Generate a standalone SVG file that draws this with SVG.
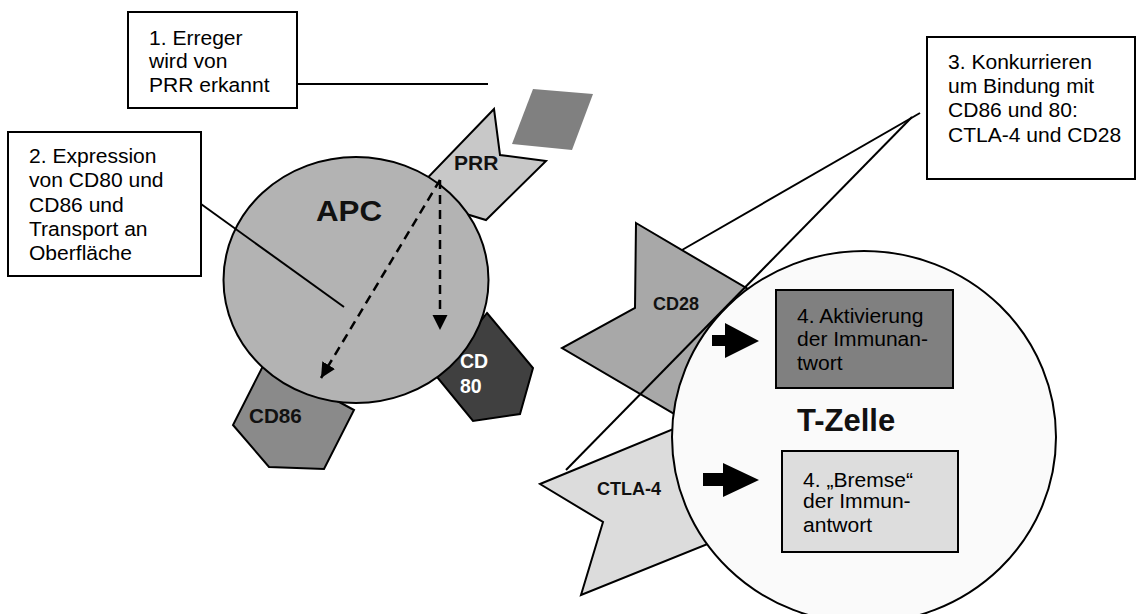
<svg xmlns="http://www.w3.org/2000/svg" width="1136" height="614" viewBox="0 0 1136 614">
<defs>
<style>
.box{stroke:#000;stroke-width:2}
.shape{stroke:#000;stroke-width:2;stroke-linejoin:miter}
.t{font-family:"Liberation Sans",Arial,sans-serif;font-size:19.5px;fill:#000}
.b{font-family:"Liberation Sans",Arial,sans-serif;font-weight:bold;fill:#111}
.ln{stroke:#000;stroke-width:2;fill:none}
.dash{stroke:#000;stroke-width:2.5;stroke-dasharray:9,6;fill:none}
</style>
<marker id="ah" markerUnits="userSpaceOnUse" markerWidth="16" markerHeight="16" refX="15" refY="7.5" orient="auto">
<path d="M0,0 L15,7.5 L0,15 z" fill="#000"/>
</marker>
</defs>
<rect width="1136" height="614" fill="#fff"/>

<g id="apc">
<polygon id="prr-shape" class="shape" fill="#c8c8c8" points="494,109 500,155 546,161 486,220 420,200 410,196"/>
<polygon id="cd86-shape" class="shape" fill="#8a8a8a" points="265,362 354,410 324,469 269,467 233,425"/>
<polygon id="cd80-shape" class="shape" fill="#404040" points="487,313 533,368 520,414 473,421 437,377"/>
<ellipse cx="356" cy="280" rx="132.5" ry="123" fill="#b3b3b3" stroke="#000" stroke-width="2"/>
<text class="b" font-size="29" transform="translate(316,221) scale(1.08,1)">APC</text>
</g>

<g id="prr"><text class="b" font-size="19.5" transform="translate(454,170) scale(1.08,1)">PRR</text></g>
<g id="cd86"><text class="b" font-size="19.5" transform="translate(249,423) scale(1.06,1)">CD86</text></g>
<g id="cd80"><text class="b" font-size="19.5" x="460" y="368" style="fill:#fff">CD</text><text class="b" font-size="19.5" x="460" y="393" style="fill:#fff">80</text></g>

<g id="erreger"><polygon fill="#808080" points="533,89 593,94 572,150 512,144"/></g>

<g id="cd28">
<polygon class="shape" fill="#a8a8a8" points="636,223 770,302 700,429 562,348 635,308"/>
<text class="b" font-size="18" x="653" y="310">CD28</text>
</g>
<g id="ctla4">
<polygon class="shape" fill="#dcdcdc" points="540,484 700,418 745,529 581,595 603,522"/>
<text class="b" font-size="18" x="597" y="495">CTLA-4</text>
</g>

<g id="tzelle">
<ellipse cx="864" cy="437" rx="192" ry="186" fill="#fafafa" stroke="#000" stroke-width="2"/>
<text class="b" font-size="31" x="797" y="431">T-Zelle</text>
</g>

<g id="aktivierung">
<rect class="box" x="776" y="290" width="177" height="98" fill="#808080"/>
<text class="t" transform="translate(797,323) scale(1.08,1)">4. Aktivierung</text>
<text class="t" transform="translate(797,346) scale(1.08,1)">der Immunan-</text>
<text class="t" transform="translate(797,370) scale(1.08,1)">twort</text>
</g>
<g id="bremse">
<rect class="box" x="782" y="451" width="176" height="101" fill="#dddddd"/>
<text class="t" transform="translate(803,487) scale(1.08,1)">4. „Bremse“</text>
<text class="t" transform="translate(803,508) scale(1.08,1)">der Immun-</text>
<text class="t" transform="translate(803,532) scale(1.08,1)">antwort</text>
</g>

<g id="box1">
<rect class="box" x="128" y="12" width="169" height="96" fill="#fff"/>
<text class="t" transform="translate(149,45) scale(1.08,1)">1. Erreger</text>
<text class="t" transform="translate(149,68) scale(1.08,1)">wird von</text>
<text class="t" transform="translate(149,92) scale(1.08,1)">PRR erkannt</text>
</g>
<g id="box2">
<rect class="box" x="8" y="132" width="193" height="144" fill="#fff"/>
<text class="t" transform="translate(29,163) scale(1.08,1)">2. Expression</text>
<text class="t" transform="translate(29,187) scale(1.08,1)">von CD80 und</text>
<text class="t" transform="translate(29,212) scale(1.08,1)">CD86 und</text>
<text class="t" transform="translate(29,236) scale(1.08,1)">Transport an</text>
<text class="t" transform="translate(29,260) scale(1.08,1)">Oberfläche</text>
</g>
<g id="box3">
<rect class="box" x="927" y="37" width="208" height="142" fill="#fff"/>
<text class="t" transform="translate(948,69) scale(1.08,1)">3. Konkurrieren</text>
<text class="t" transform="translate(948,93) scale(1.08,1)">um Bindung mit</text>
<text class="t" transform="translate(948,117) scale(1.08,1)">CD86 und 80:</text>
<text class="t" transform="translate(948,142) scale(1.08,1)">CTLA-4 und CD28</text>
</g>

<g id="connectors">
<line class="ln" x1="297" y1="84" x2="488" y2="84"/>
<line class="ln" x1="201" y1="204" x2="344" y2="307"/>
<line class="ln" x1="920" y1="113" x2="682" y2="250"/>
<line class="ln" x1="912" y1="117" x2="566" y2="470"/>
<line class="dash" x1="440" y1="180" x2="440" y2="330" marker-end="url(#ah)"/>
<line class="dash" x1="440" y1="180" x2="321" y2="378" marker-end="url(#ah)"/>
<polygon fill="#000" points="712,335 725,335 725,323 759,341 725,358 725,346 712,346"/>
<polygon fill="#000" points="703,473 723,473 723,463 759,480 723,497 723,486 703,486"/>
</g>
</svg>
